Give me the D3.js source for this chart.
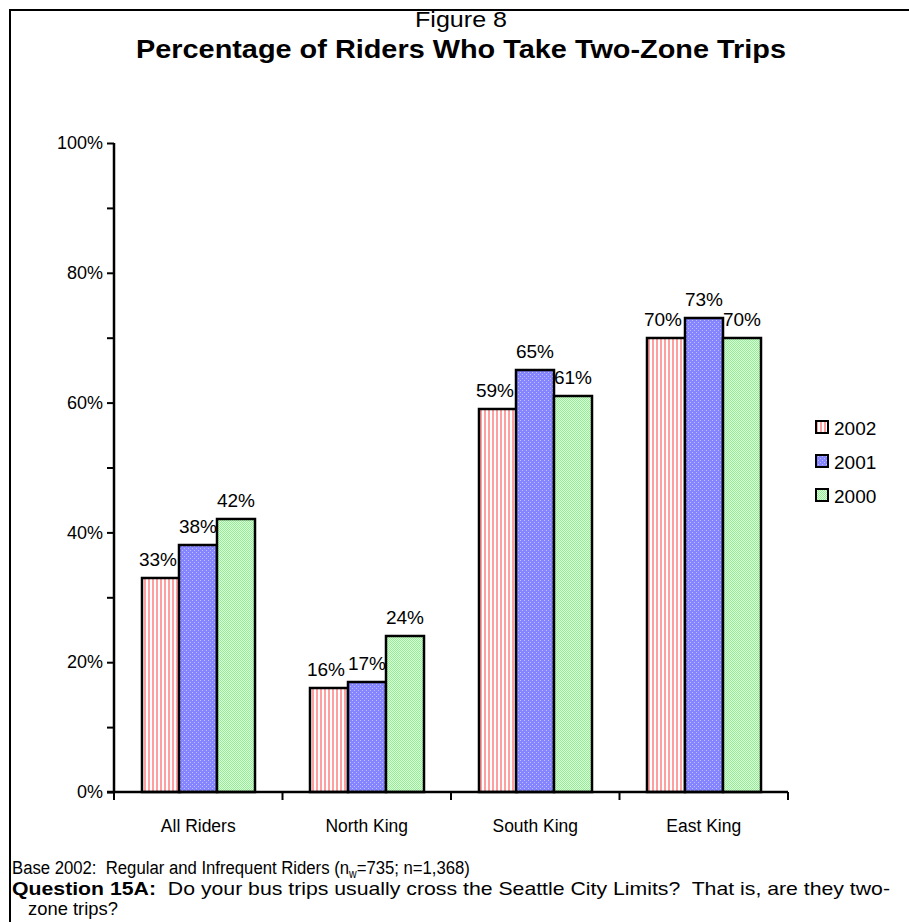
<!DOCTYPE html>
<html>
<head>
    <meta charset="utf-8">
    <style>
        body { margin: 0; background: #fff; }
        text { fill: #000; white-space: pre; font-family: "Liberation Sans", Arial, sans-serif; }
    </style>
</head>
<body>
<div id="chart"></div>
<script src="https://cdn.jsdelivr.net/npm/d3@7/dist/d3.min.js"></script>
<script>

    var categories = ["All Riders", "North King", "South King", "East King"];
    var years = ["2002", "2001", "2000"];
    var values2002 = [33, 16, 59, 70];
    var values2001 = [38, 17, 65, 73];
    var values2000 = [42, 24, 61, 70];
    var yTicks = [0, 20, 40, 60, 80, 100];

    var series = [values2002, values2001, values2000];
    var fills = ["url(#pat2002)", "url(#pat2001)", "url(#pat2000)"];

    var W = 909, H = 922;
    var plotLeft = 114, plotRight = 788, plotTop = 143, plotBottom = 792;

    var svg = d3.select("#chart").append("svg")
        .attr("width", W)
        .attr("height", H);

    // fill patterns
    var defs = svg.append("defs");
    var p1 = defs.append("pattern").attr("id", "pat2002").attr("patternUnits", "userSpaceOnUse")
        .attr("width", 4).attr("height", 4);
    p1.append("rect").attr("width", 4).attr("height", 4).attr("fill", "#fff");
    p1.append("rect").attr("x", 0).attr("width", 2).attr("height", 4).attr("fill", "#ffa0a0");

    var p2 = defs.append("pattern").attr("id", "pat2001").attr("patternUnits", "userSpaceOnUse")
        .attr("width", 4).attr("height", 4);
    p2.append("rect").attr("width", 4).attr("height", 4).attr("fill", "#8585ff");
    p2.append("rect").attr("x", 0).attr("y", 0).attr("width", 1).attr("height", 1).attr("fill", "#c0c0ff");
    p2.append("rect").attr("x", 2).attr("y", 2).attr("width", 1).attr("height", 1).attr("fill", "#c0c0ff");

    var p3 = defs.append("pattern").attr("id", "pat2000").attr("patternUnits", "userSpaceOnUse")
        .attr("width", 2).attr("height", 2);
    p3.append("rect").attr("width", 2).attr("height", 2).attr("fill", "#e0ffe0");
    p3.append("rect").attr("x", 0).attr("y", 0).attr("width", 1).attr("height", 1).attr("fill", "#90f090");
    p3.append("rect").attr("x", 1).attr("y", 1).attr("width", 1).attr("height", 1).attr("fill", "#90f090");

    // frame
    svg.append("rect")
        .attr("x", 10).attr("y", 10)
        .attr("width", W + 20).attr("height", H + 20)
        .attr("fill", "none").attr("stroke", "#000").attr("stroke-width", 2);

    // titles
    svg.append("text")
        .attr("x", 461).attr("y", 27)
        .attr("text-anchor", "middle")
        .attr("font-size", 22)
        .attr("textLength", 92).attr("lengthAdjust", "spacingAndGlyphs")
        .text("Figure 8");
    svg.append("text")
        .attr("x", 461).attr("y", 58)
        .attr("text-anchor", "middle")
        .attr("font-size", 25).attr("font-weight", "bold")
        .attr("textLength", 650).attr("lengthAdjust", "spacingAndGlyphs")
        .text("Percentage of Riders Who Take Two-Zone Trips");

    var x0 = d3.scaleBand().domain(categories).range([plotLeft, plotRight]);
    var x1 = d3.scaleBand().domain(years).range([0, x0.bandwidth()]).paddingOuter(0.73);
    var y = d3.scaleLinear().domain([0, 100]).range([plotBottom, plotTop]);

    function barX(cat, yr) { return Math.round(x0(cat) + x1(yr)); }

    // bars
    var barLayer = svg.append("g");
    var labelLayer = svg.append("g");
    categories.forEach(function (cat, ci) {
        years.forEach(function (yr, si) {
            var v = series[si][ci];
            var bx = barX(cat, yr);
            var bw = Math.round(x1.bandwidth());
            barLayer.append("rect")
                .attr("x", bx)
                .attr("y", Math.round(y(v)))
                .attr("width", bw)
                .attr("height", Math.round(y(0)) - Math.round(y(v)))
                .attr("fill", fills[si])
                .attr("stroke", "#000")
                .attr("stroke-width", 2.5);
            labelLayer.append("text")
                .attr("x", bx + bw / 2 - (si === 0 ? 3 : 0))
                .attr("y", y(v) - 12)
                .attr("text-anchor", "middle")
                .attr("font-size", 19)
                .text(v + "%");
        });
    });

    // y axis
    var yAxis = svg.append("g")
        .attr("transform", "translate(" + plotLeft + ",0)")
        .call(d3.axisLeft(y).tickValues(d3.range(0, 101, 10)).tickSize(7)
            .tickFormat(function (d) { return yTicks.indexOf(d) >= 0 ? d + "%" : ""; }));
    yAxis.select(".domain").attr("stroke-width", 2.5).attr("d", "M0," + plotTop + "V" + plotBottom);
    yAxis.selectAll(".tick line").attr("stroke-width", 2);
    yAxis.selectAll(".tick text").attr("font-family", null).attr("font-size", 18).attr("x", -11);

    // x axis
    var xAxis = svg.append("g")
        .attr("transform", "translate(0," + plotBottom + ")");
    xAxis.append("line").attr("x1", plotLeft - 7).attr("x2", plotRight).attr("stroke", "#000").attr("stroke-width", 2.5);
    xAxis.selectAll("line.tk")
        .data(categories.map(function (d) { return x0(d); }).concat([plotRight]))
        .enter().append("line").attr("class", "tk")
        .attr("x1", function (d) { return d; })
        .attr("x2", function (d) { return d; })
        .attr("y1", 0).attr("y2", 8)
        .attr("stroke", "#000").attr("stroke-width", 2);
    xAxis.selectAll("text")
        .data(categories)
        .enter().append("text")
        .attr("x", function (d) { return x0(d) + x0.bandwidth() / 2; })
        .attr("y", 40)
        .attr("text-anchor", "middle")
        .attr("font-size", 19)
        .attr("transform", function (d) {
            var cx = x0(d) + x0.bandwidth() / 2;
            return "translate(" + cx + ",0) scale(0.92,1) translate(" + (-cx) + ",0)";
        })
        .text(function (d) { return d; });

    // legend
    var legend = svg.append("g").attr("transform", "translate(816,428)");
    years.forEach(function (yr, i) {
        var row = legend.append("g").attr("transform", "translate(0," + (i * 34) + ")");
        row.append("rect").attr("x", 0).attr("y", -7).attr("width", 12).attr("height", 12)
            .attr("fill", fills[i]).attr("stroke", "#000").attr("stroke-width", 2);
        row.append("text")
            .attr("x", 18).attr("y", 0).attr("dy", "0.35em")
            .attr("font-size", 19)
            .text(yr);
    });

    // footnote
    var foot = svg.append("g").attr("font-size", 19);
    var f1 = foot.append("text").attr("x", 0).attr("y", 874)
        .attr("transform", "translate(12,0) scale(0.88,1)");
    f1.append("tspan").text("Base 2002:  Regular and Infrequent Riders (n");
    f1.append("tspan").attr("font-size", 12).attr("dy", 4).text("w");
    f1.append("tspan").attr("dy", -4).text("=735; n=1,368)");
    var f2 = foot.append("text").attr("x", 12).attr("y", 895)
        .attr("textLength", 878).attr("lengthAdjust", "spacingAndGlyphs");
    f2.append("tspan").attr("font-weight", "bold").text("Question 15A:");
    f2.append("tspan").text("  Do your bus trips usually cross the Seattle City Limits?  That is, are they two-");
    foot.append("text").attr("x", 28).attr("y", 915)
        .attr("textLength", 90).attr("lengthAdjust", "spacingAndGlyphs")
        .text("zone trips?");

</script>
</body>
</html>
